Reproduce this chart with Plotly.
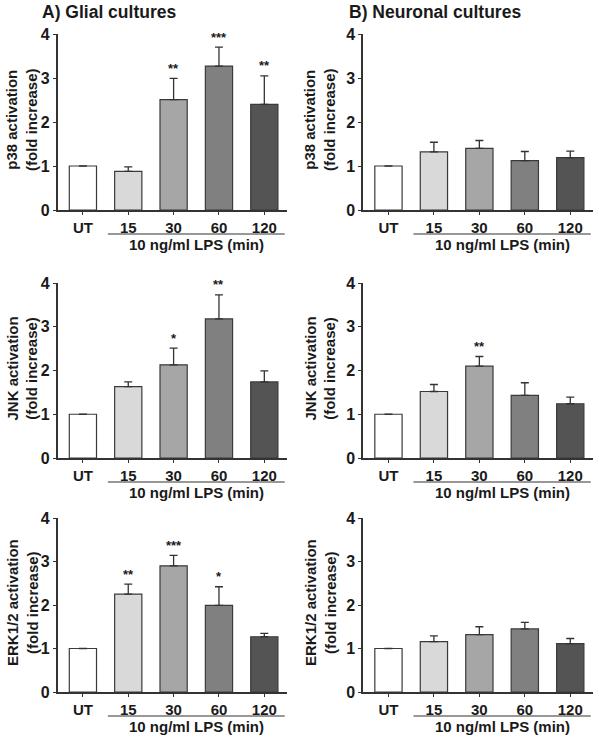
import plotly.graph_objects as go
from plotly.subplots import make_subplots

categories = ["UT", "15", "30", "60", "120"]
bar_colors = ["#ffffff", "#d9d9d9", "#a6a6a6", "#808080", "#545454"]

# glial cultures (left column)
glial_p38 = [1.0, 0.88, 2.51, 3.27, 2.40]
glial_p38_err = [0, 0.10, 0.48, 0.43, 0.65]
glial_p38_sig = ["", "", "**", "***", "**"]

glial_jnk = [1.0, 1.63, 2.13, 3.18, 1.74]
glial_jnk_err = [0, 0.11, 0.38, 0.55, 0.25]
glial_jnk_sig = ["", "", "*", "**", ""]

glial_erk = [1.0, 2.25, 2.90, 1.99, 1.27]
glial_erk_err = [0, 0.23, 0.24, 0.43, 0.08]
glial_erk_sig = ["", "**", "***", "*", ""]

# neuronal cultures (right column)
neur_p38 = [1.0, 1.32, 1.40, 1.12, 1.19]
neur_p38_err = [0, 0.22, 0.18, 0.21, 0.15]
neur_p38_sig = ["", "", "", "", ""]

neur_jnk = [1.0, 1.52, 2.10, 1.43, 1.24]
neur_jnk_err = [0, 0.16, 0.22, 0.29, 0.15]
neur_jnk_sig = ["", "", "**", "", ""]

neur_erk = [1.0, 1.16, 1.32, 1.45, 1.11]
neur_erk_err = [0, 0.13, 0.18, 0.15, 0.12]
neur_erk_sig = ["", "", "", "", ""]

y_titles = ["p38 activation<br>(fold increase)",
            "JNK activation<br>(fold increase)",
            "ERK1/2 activation<br>(fold increase)"]

panels = [
    (1, 1, glial_p38, glial_p38_err, glial_p38_sig),
    (1, 2, neur_p38, neur_p38_err, neur_p38_sig),
    (2, 1, glial_jnk, glial_jnk_err, glial_jnk_sig),
    (2, 2, neur_jnk, neur_jnk_err, neur_jnk_sig),
    (3, 1, glial_erk, glial_erk_err, glial_erk_sig),
    (3, 2, neur_erk, neur_erk_err, neur_erk_sig),
]

W, H = 600, 741


def fx(px):
    return px / W


def fy(py):
    return 1 - py / H


x_dom = {1: [fx(57.5), fx(287)], 2: [fx(363), fx(593)]}
ytitle_x = {1: 22, 2: 320}
row_px = {1: (34, 210), 2: (283, 458), 3: (518, 692)}

fig = make_subplots(rows=3, cols=2)
xpos = list(range(len(categories)))
font_main = "Liberation Sans, Arial, sans-serif"
txt = "#1a1a1a"

for r, c, vals, errs, sig in panels:
    fig.add_trace(go.Bar(
        x=xpos, y=vals, width=0.6,
        marker=dict(color=bar_colors, line=dict(color="#3a3a3a", width=1.2)),
        error_y=dict(type="data", symmetric=False, array=errs,
                     arrayminus=[0] * len(errs), color="#333333",
                     thickness=1.3, width=4),
        showlegend=False,
    ), row=r, col=c)

    top, bot = row_px[r]
    fig.update_xaxes(domain=x_dom[c], range=[-0.56, 4.5], automargin=False,
                     tickmode="array", tickvals=xpos, ticktext=categories,
                     showline=True, linecolor="#333333", linewidth=1.5,
                     ticks="outside", ticklen=3, tickcolor="#333333", tickwidth=1.2,
                     showgrid=False, zeroline=False,
                     tickfont=dict(size=15, family=font_main, color=txt, weight="bold"),
                     row=r, col=c)
    fig.update_yaxes(domain=[fy(bot), fy(top)], range=[0, 4], automargin=False,
                     tickvals=[0, 1, 2, 3, 4],
                     showline=True, linecolor="#333333", linewidth=1.5,
                     ticks="outside", ticklen=3, tickcolor="#333333", tickwidth=1.2,
                     showgrid=False, zeroline=False,
                     tickfont=dict(size=16, family=font_main, color=txt, weight="bold"),
                     row=r, col=c)

    # y axis title as rotated two-line text
    fig.add_annotation(x=fx(ytitle_x[c]), y=fy((top + bot) / 2 - 2), xref="paper", yref="paper",
                       text=y_titles[r - 1], showarrow=False, textangle=-90,
                       xanchor="center", yanchor="middle",
                       font=dict(size=15, family=font_main, color=txt, weight="bold"))

    idx = (r - 1) * 2 + c
    xr = "x" if idx == 1 else f"x{idx}"
    yr = "y" if idx == 1 else f"y{idx}"
    hpx = bot - top

    # significance stars
    for i, s in enumerate(sig):
        if s:
            fig.add_annotation(x=xpos[i], y=vals[i] + errs[i], xref=xr, yref=yr,
                               text=s, showarrow=False, yanchor="middle", yshift=10,
                               font=dict(size=13, family=font_main, color=txt, weight="bold"))

    # LPS bracket line and label
    fig.add_shape(type="line", xref=xr, yref=f"{yr} domain",
                  x0=0.55, x1=4.45, y0=-24 / hpx, y1=-24 / hpx,
                  line=dict(color="#333333", width=1.2))
    fig.add_annotation(x=2.5, y=-34 / hpx, xref=xr, yref=f"{yr} domain",
                       text="10 ng/ml LPS (min)", showarrow=False, yanchor="middle",
                       font=dict(size=15, family=font_main, color=txt, weight="bold"))

fig.add_annotation(x=fx(40), y=fy(12), xref="paper", yref="paper",
                   text="A) Glial cultures", showarrow=False, xanchor="left", yanchor="middle",
                   font=dict(size=17.5, family=font_main, color=txt, weight="bold"))
fig.add_annotation(x=fx(347), y=fy(12), xref="paper", yref="paper",
                   text="B) Neuronal cultures", showarrow=False, xanchor="left", yanchor="middle",
                   font=dict(size=17.5, family=font_main, color=txt, weight="bold"))

fig.update_layout(width=W, height=H, margin=dict(l=0, r=0, t=0, b=0),
                  plot_bgcolor="white", paper_bgcolor="white", bargap=0.4,
                  font=dict(family=font_main))

# drop the browser's default body margin so the figure fills the window
fig.write_html("out.html", config={"displayModeBar": False},
               post_script="document.body.style.margin='0';")
